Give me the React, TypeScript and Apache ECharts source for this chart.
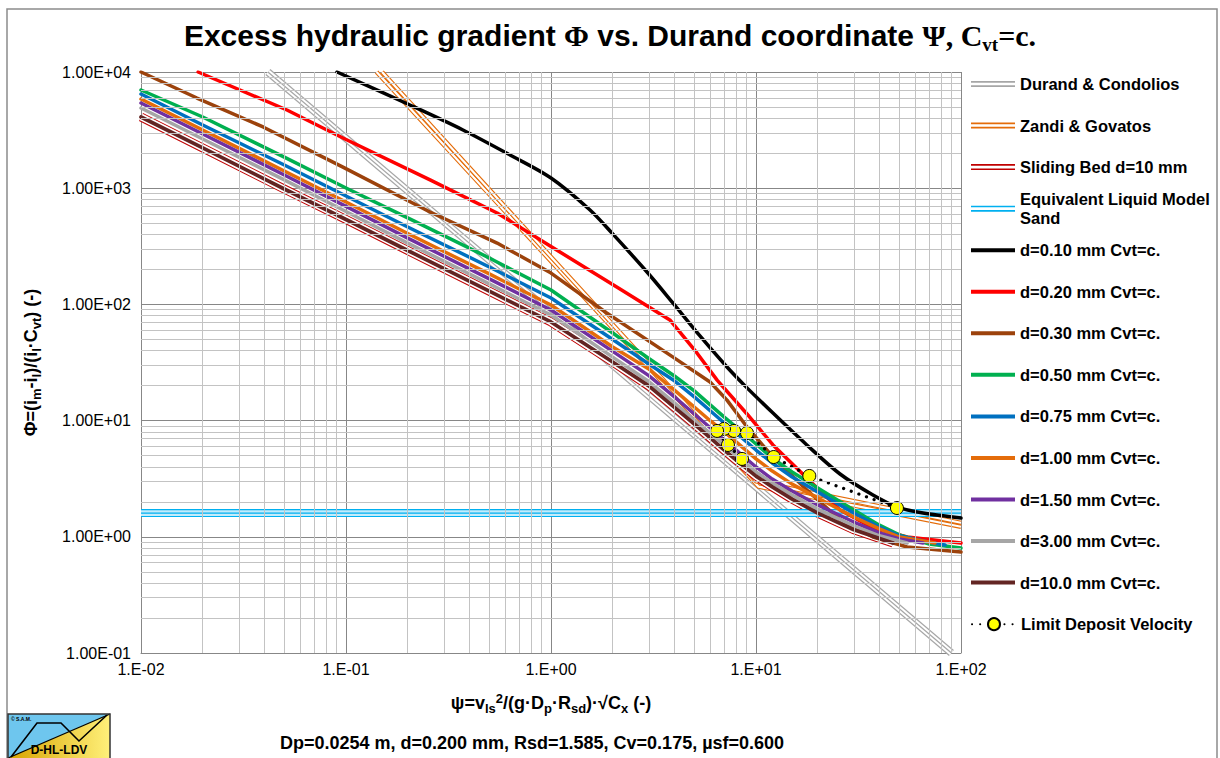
import React, { useEffect, useRef } from "react";
import * as echarts from "echarts";

type Pt = [number, number];

// ---------- tick labels ----------
const xTickLabels = ["1.E-02", "1.E-01", "1.E+00", "1.E+01", "1.E+02"];
const yTickLabels = ["1.00E-01", "1.00E+00", "1.00E+01", "1.00E+02", "1.00E+03", "1.00E+04"];
const xDecades = [0.01, 0.1, 1, 10];
const yDecades = [0.1, 1, 10, 100, 1000];
const minorSteps = [2, 3, 4, 5, 6, 7, 8, 9];

// ---------- data (psi, Phi) ----------
const durand: Pt[] = [[0.0416, 10000], [89.8, 0.1]];
const zandiA: Pt[] = [[0.141, 10000], [10.3, 2.7], [100, 1.22]];
const zandiB: Pt[] = [[0.15, 10000], [10.0, 3.0], [100, 1.32]];
const slidingBed: Pt[] = [
  [0.01, 4100], [0.02, 2220], [0.05, 984], [0.1, 538], [0.2, 291], [0.5, 130], [1, 70.6],
  [2, 31.9], [3, 19.9], [4, 13.0], [5, 9.35], [6, 7.08], [7, 5.58], [8, 4.58], [10, 3.33],
  [12, 2.69], [15, 2.11], [20, 1.6], [30, 1.15], [46.6, 0.885],
];
const elm: Pt[] = [[0.01, 1.6], [100, 1.6]];

const d010: Pt[] = [
  [0.0904, 10000], [0.205, 5200], [0.372, 3170], [0.631, 1932], [1.0, 1225], [1.55, 649],
  [2.0, 404], [2.94, 190], [3.93, 103], [5.33, 53.5], [7.22, 28.9], [8.84, 19.9], [12.1, 11.6],
  [17.7, 6.17], [25.7, 3.47], [37.2, 2.29], [48.7, 1.81], [65.3, 1.6], [100, 1.45],
];
const d020: Pt[] = [
  [0.019, 10000], [0.0304, 7000], [0.0515, 4710], [0.0966, 2704], [0.257, 1178], [0.546, 612],
  [1.0, 315], [2.24, 131], [3.8, 73.5], [5.15, 38.2], [6.46, 22.3], [9.04, 11.4],
  [12.1, 6.17], [17.7, 3.21], [25.7, 1.7], [37.2, 1.19], [54.6, 0.995], [100, 0.885],
];
const d030: Pt[] = [
  [0.01, 10000], [0.01875, 5970], [0.0394, 3365], [0.0966, 1520], [0.257, 624], [0.546, 337],
  [1.0, 186], [1.87, 84.3], [3.94, 35.2], [5.97, 21.5], [7.22, 15.0], [9.04, 8.81], [12.1, 4.86],
  [17.7, 2.53], [25.7, 1.4], [37.2, 0.995], [54.6, 0.817], [100, 0.74],
];
const d050: Pt[] = [
  [0.01, 7000], [0.02, 4100], [0.05, 1850], [0.1, 1005], [0.2, 555], [0.5, 251], [1, 133],
  [2, 56.8], [3, 34.2], [4, 24.2], [5, 18.0], [6, 13.6], [7, 10.7], [8, 8.81], [10, 6.29],
  [12, 4.76], [15, 3.61], [20, 2.63], [30, 1.7], [40, 1.26], [50, 1.04], [70, 0.867], [100, 0.8],
];
const d075: Pt[] = [
  [0.01, 6470], [0.02, 3500], [0.05, 1585], [0.1, 857], [0.2, 464], [0.5, 210], [1, 113.5],
  [2, 49.9], [3, 30.7], [4, 22.0], [5, 16.0], [6, 12.1], [7, 9.53], [8, 7.82], [10, 5.58],
  [12, 4.32], [15, 3.27], [20, 2.43], [30, 1.6], [40, 1.21], [50, 1.02], [70, 0.9], [83.6, 0.85],
];
const d100: Pt[] = [
  [0.01, 5860], [0.02, 3170], [0.05, 1406], [0.1, 760], [0.2, 407], [0.5, 183], [1, 98.8],
  [2, 43.0], [3, 27.8], [4, 18.3], [5, 13.1], [6, 9.93], [7, 7.98], [8, 6.55], [10, 4.68],
  [12, 3.68], [15, 2.84], [20, 2.16], [30, 1.48], [40, 1.17], [50, 0.995], [74.6, 0.885],
];
const d150: Pt[] = [
  [0.01, 5410], [0.02, 2925], [0.05, 1300], [0.1, 697], [0.2, 372], [0.5, 166], [1, 89.5],
  [2, 39.4], [3, 24.4], [4, 16.0], [5, 11.4], [6, 8.63], [7, 6.81], [8, 5.58], [10, 3.99],
  [12, 3.14], [15, 2.48], [20, 1.88], [30, 1.34], [40, 1.08], [50, 0.957], [65.3, 0.885],
];
const d300: Pt[] = [
  [0.01, 4900], [0.02, 2650], [0.05, 1178], [0.1, 631], [0.2, 337], [0.5, 150], [1, 81.1],
  [2, 35.2], [3, 21.7], [4, 14.2], [5, 10.1], [6, 7.74], [7, 6.17], [8, 5.06], [10, 3.61],
  [12, 2.9], [15, 2.29], [20, 1.73], [30, 1.24], [40, 1.02], [54.6, 0.885],
];
const d1000: Pt[] = [
  [0.01, 4100], [0.02, 2220], [0.05, 984], [0.1, 538], [0.2, 291], [0.5, 130], [1, 70.6],
  [2, 31.9], [3, 19.9], [4, 13.0], [5, 9.35], [6, 7.08], [7, 5.58], [8, 4.58], [10, 3.33],
  [12, 2.69], [15, 2.11], [20, 1.6], [30, 1.15], [46.6, 0.885],
];
const ldv: Pt[] = [
  [48.7, 1.77], [18.2, 3.34], [12.2, 4.86], [9.04, 7.82], [7.82, 8.15], [6.98, 8.48],
  [6.46, 8.15], [7.3, 6.17], [8.55, 4.68],
];

// ---------- names ----------
const names = [
  "Durand & Condolios",
  "Zandi & Govatos",
  "Sliding Bed d=10 mm",
  "Equivalent Liquid Model Sand",
  "d=0.10 mm Cvt=c.",
  "d=0.20 mm Cvt=c.",
  "d=0.30 mm Cvt=c.",
  "d=0.50 mm Cvt=c.",
  "d=0.75 mm Cvt=c.",
  "d=1.00 mm Cvt=c.",
  "d=1.50 mm Cvt=c.",
  "d=3.00 mm Cvt=c.",
  "d=10.0 mm Cvt=c.",
  "Limit Deposit Velocity",
];

const SANS = '"Liberation Sans", Arial, Helvetica, sans-serif';
const SERIF = '"Liberation Serif", "Times New Roman", serif';

const C = {
  durand: "#a6a6a6",
  zandi: "#e46c0a",
  sliding: "#c00000",
  elm: "#00b0f0",
  d010: "#000000",
  d020: "#ff0000",
  d030: "#9c420c",
  d050: "#00b050",
  d075: "#0070c0",
  d100: "#e46c0a",
  d150: "#7030a0",
  d300: "#a6a6a6",
  d1000: "#632523",
};

function line(name: string | null, data: Pt[], color: string, width: number, cap = "round", smooth: number | boolean = false) {
  const s: any = {
    type: "line",
    data,
    symbol: "none",
    showSymbol: false,
    silent: true,
    clip: true,
    smooth,
    lineStyle: { color, width, cap, join: "round" },
    itemStyle: { color },
    emphasis: { disabled: true },
  };
  if (name) s.name = name;
  return s;
}

function buildOption(): any {
  const xMinor: number[] = [];
  xDecades.forEach((d) => minorSteps.forEach((k) => xMinor.push(k * d)));
  const yMinor: number[] = [];
  yDecades.forEach((d) => minorSteps.forEach((k) => yMinor.push(k * d)));

  const series: any[] = [
    {
      type: "line",
      id: "minorGrid",
      data: [],
      silent: true,
      z: 1,
      markLine: {
        silent: true,
        animation: false,
        symbol: ["none", "none"],
        label: { show: false },
        emphasis: { disabled: true },
        lineStyle: { color: "#c3c3c3", width: 1, type: "solid" },
        data: [...xMinor.map((v) => ({ xAxis: v })), ...yMinor.map((v) => ({ yAxis: v }))],
      },
    },
    // Durand & Condolios (compound line)
    line(names[0], durand, C.durand, 7.6, "butt"),
    line(null, durand, "#ffffff", 5.2, "butt"),
    line(null, durand, C.durand, 1.2, "butt"),
    // Zandi & Govatos (two compound lines)
    line(names[1], zandiA, C.zandi, 4.4, "butt"),
    line(null, zandiA, "#ffffff", 2.2, "butt"),
    line(null, zandiB, C.zandi, 4.4, "butt"),
    line(null, zandiB, "#ffffff", 2.2, "butt"),
    // Sliding bed
    line(names[2], slidingBed, C.sliding, 9, "butt"),
    line(null, slidingBed, "#ffffff", 7, "butt"),
    // ELM
    line(names[3], elm, C.elm, 8, "butt"),
    line(null, elm, "#c4ebfb", 5.6, "butt"),
    line(null, elm, C.elm, 1.3, "butt"),
    // d curves
    line(names[4], d010, C.d010, 3.5, "round", 0.3),
    line(names[5], d020, C.d020, 3.5),
    line(names[6], d030, C.d030, 3.5),
    line(names[7], d050, C.d050, 3.5),
    line(names[8], d075, C.d075, 3.5),
    line(names[9], d100, C.d100, 3.5),
    line(names[10], d150, C.d150, 3.5),
    line(names[11], d300, C.d300, 3.5),
    line(names[12], d1000, C.d1000, 3.7),
    {
      type: "line",
      name: names[13],
      data: ldv,
      symbol: "circle",
      symbolSize: 13,
      showSymbol: true,
      silent: true,
      clip: true,
      lineStyle: { color: "#000000", width: 3.2, type: [0.1, 8], cap: "round" },
      itemStyle: { color: "#ffff00", borderColor: "#000000", borderWidth: 1 },
      emphasis: { disabled: true },
    },
  ];

  const legendColors = [
    C.durand, C.zandi, C.sliding, C.elm, C.d010, C.d020, C.d030, C.d050, C.d075, C.d100, C.d150, C.d300, C.d1000,
  ];
  const compoundIcon = "path://M0,0L44,0L44,1.7L0,1.7Z M0,4.3L44,4.3L44,6L0,6Z";
  const legendTextStyle = {
    fontFamily: SANS,
    fontWeight: "bold",
    fontSize: 16.5,
    color: "#000",
    lineHeight: 18.4,
  };
  const firstCenter = 84;
  const step = 41.55;
  const legends: any[] = names.map((name, i) => {
    const center = firstCenter + i * step;
    const base: any = {
      type: "plain",
      orient: "vertical",
      left: 971,
      padding: 0,
      itemWidth: 44,
      selectedMode: false,
      textStyle: { ...legendTextStyle },
    };
    if (i < 4) {
      base.itemHeight = 6;
      base.data = [{ name, icon: compoundIcon, itemStyle: { color: legendColors[i], borderWidth: 0 } }];
      base.top = center - 9.2;
      if (i === 3) {
        base.formatter = () => "Equivalent Liquid Model\nSand";
        base.textStyle = { ...legendTextStyle, padding: [18.4, 0, 0, 0] };
        base.top = center - 27.6;
      }
    } else if (i < 13) {
      base.itemHeight = 4;
      base.data = [{ name, icon: "rect", itemStyle: { color: legendColors[i], borderWidth: 0 } }];
      base.top = center - 9.2;
    } else {
      base.itemHeight = 15;
      base.data = [{ name }];
      base.top = center - 9.2;
    }
    return base;
  });

  const subStyle = (size: number, shift: number) => ({
    fontFamily: SANS,
    fontWeight: "bold",
    fontSize: size,
    color: "#000",
    padding: shift >= 0 ? [shift, 0, 0, 0] : [0, 0, -shift, 0],
  });
  const axisNameRich = {
    a: { fontFamily: SANS, fontWeight: "bold", fontSize: 18, color: "#000", lineHeight: 24 },
    sub: subStyle(13, 10),
    sup: subStyle(13, -10),
  };

  return {
    animation: false,
    backgroundColor: "#ffffff",
    title: {
      left: "center",
      top: 16,
      padding: 0,
      text: "{a|Excess hydraulic gradient }{g|Φ}{a| vs. Durand coordinate }{g|Ψ, C}{sub|vt}{g|=c.}",
      textStyle: {
        rich: {
          a: { fontFamily: SANS, fontWeight: "bold", fontSize: 30, color: "#000", lineHeight: 38 },
          g: { fontFamily: SERIF, fontWeight: "bold", fontSize: 30, color: "#000", lineHeight: 38 },
          sub: { fontFamily: SERIF, fontWeight: "bold", fontSize: 19, color: "#000", padding: [18, 0, 0, 0] },
        },
      },
    },
    legend: legends,
    grid: {
      left: 141,
      top: 72,
      width: 820,
      height: 581,
      containLabel: false,
      outerBoundsMode: "none",
    },
    xAxis: {
      type: "log",
      logBase: 10,
      min: 0.01,
      max: 100,
      name: "{a|ψ=v}{sub|ls}{sup|2}{a|/(g·D}{sub|p}{a|·R}{sub|sd}{a|)·√C}{sub|x}{a| (-)}",
      nameLocation: "middle",
      nameGap: 38,
      nameTextStyle: { rich: axisNameRich },
      axisLine: { show: true, lineStyle: { color: "#878787", width: 1 } },
      axisTick: { show: false },
      splitLine: { show: true, lineStyle: { color: "#878787", width: 1 } },
      axisLabel: {
        fontFamily: SANS,
        fontSize: 16,
        color: "#000",
        margin: 8,
        formatter: (v: number) => xTickLabels[Math.round(Math.log10(v)) + 2] ?? "",
      },
    },
    yAxis: {
      type: "log",
      logBase: 10,
      min: 0.1,
      max: 10000,
      name: "{a|Φ=(i}{sub|m}{a|-i}{sub|l}{a|)/(i}{sub|l}{a|·C}{sub|vt}{a|) (-)}",
      nameLocation: "middle",
      nameRotate: 90,
      nameGap: 98,
      nameTextStyle: { rich: axisNameRich },
      axisLine: { show: true, lineStyle: { color: "#878787", width: 1 } },
      axisTick: { show: false },
      splitLine: { show: true, lineStyle: { color: "#878787", width: 1 } },
      axisLabel: {
        fontFamily: SANS,
        fontSize: 16,
        color: "#000",
        margin: 10,
        formatter: (v: number) => yTickLabels[Math.round(Math.log10(v)) + 1] ?? "",
      },
    },
    graphic: [
      {
        type: "rect",
        silent: true,
        z: -10,
        shape: { x: 7, y: 9, width: 1210, height: 760 },
        style: { fill: "none", stroke: "#8c8c8c", lineWidth: 1.5 },
      },
      {
        type: "text",
        silent: true,
        style: {
          text: "Dp=0.0254 m, d=0.200 mm, Rsd=1.585, Cv=0.175, µsf=0.600",
          x: 532,
          y: 743,
          align: "center",
          verticalAlign: "middle",
          fontFamily: SANS,
          fontWeight: "bold",
          fontSize: 18,
          fill: "#000",
        },
      },
      {
        type: "group",
        silent: true,
        z: 10,
        children: [
          {
            type: "polygon",
            shape: { points: [[8, 714], [110, 714], [8, 758]] },
            style: { fill: "#6ec6ee" },
          },
          {
            type: "polygon",
            shape: { points: [[8, 758], [110, 714], [110, 758]] },
            style: {
              fill: new echarts.graphic.LinearGradient(0, 0, 1, 0, [
                { offset: 0, color: "#d8a400" },
                { offset: 1, color: "#fff07a" },
              ]),
            },
          },
          {
            type: "line",
            shape: { x1: 8, y1: 758, x2: 110, y2: 714 },
            style: { stroke: "#000", lineWidth: 1.2 },
          },
          {
            type: "polyline",
            shape: { points: [[11, 757], [37, 723], [61, 723], [79, 741], [107, 715]] },
            style: { stroke: "#000", lineWidth: 1.6, fill: "none" },
          },
          {
            type: "text",
            style: { text: "© S.A.M.", x: 11, y: 719, fontSize: 5, fontFamily: SANS, fontWeight: "bold", fill: "#000", verticalAlign: "middle" },
          },
          {
            type: "text",
            style: {
              text: "D-HL-LDV",
              x: 59,
              y: 750,
              align: "center",
              verticalAlign: "middle",
              fontSize: 12,
              fontFamily: SANS,
              fontWeight: "bold",
              fill: "#000",
            },
          },
          {
            type: "rect",
            shape: { x: 8, y: 714, width: 102, height: 46 },
            style: { fill: "none", stroke: "#333", lineWidth: 1.5 },
          },
        ],
      },
    ],
    series,
  };
}

export default function App() {
  const ref = useRef<HTMLDivElement>(null);
  useEffect(() => {
    if (!ref.current) return;
    const chart = echarts.init(ref.current, null, { renderer: "svg" });
    chart.setOption(buildOption());
    return () => {
      chart.dispose();
    };
  }, []);
  return (
    <div
      ref={ref}
      style={{ position: "fixed", left: 0, top: 0, width: 1220, height: 758, background: "#fff" }}
    />
  );
}
